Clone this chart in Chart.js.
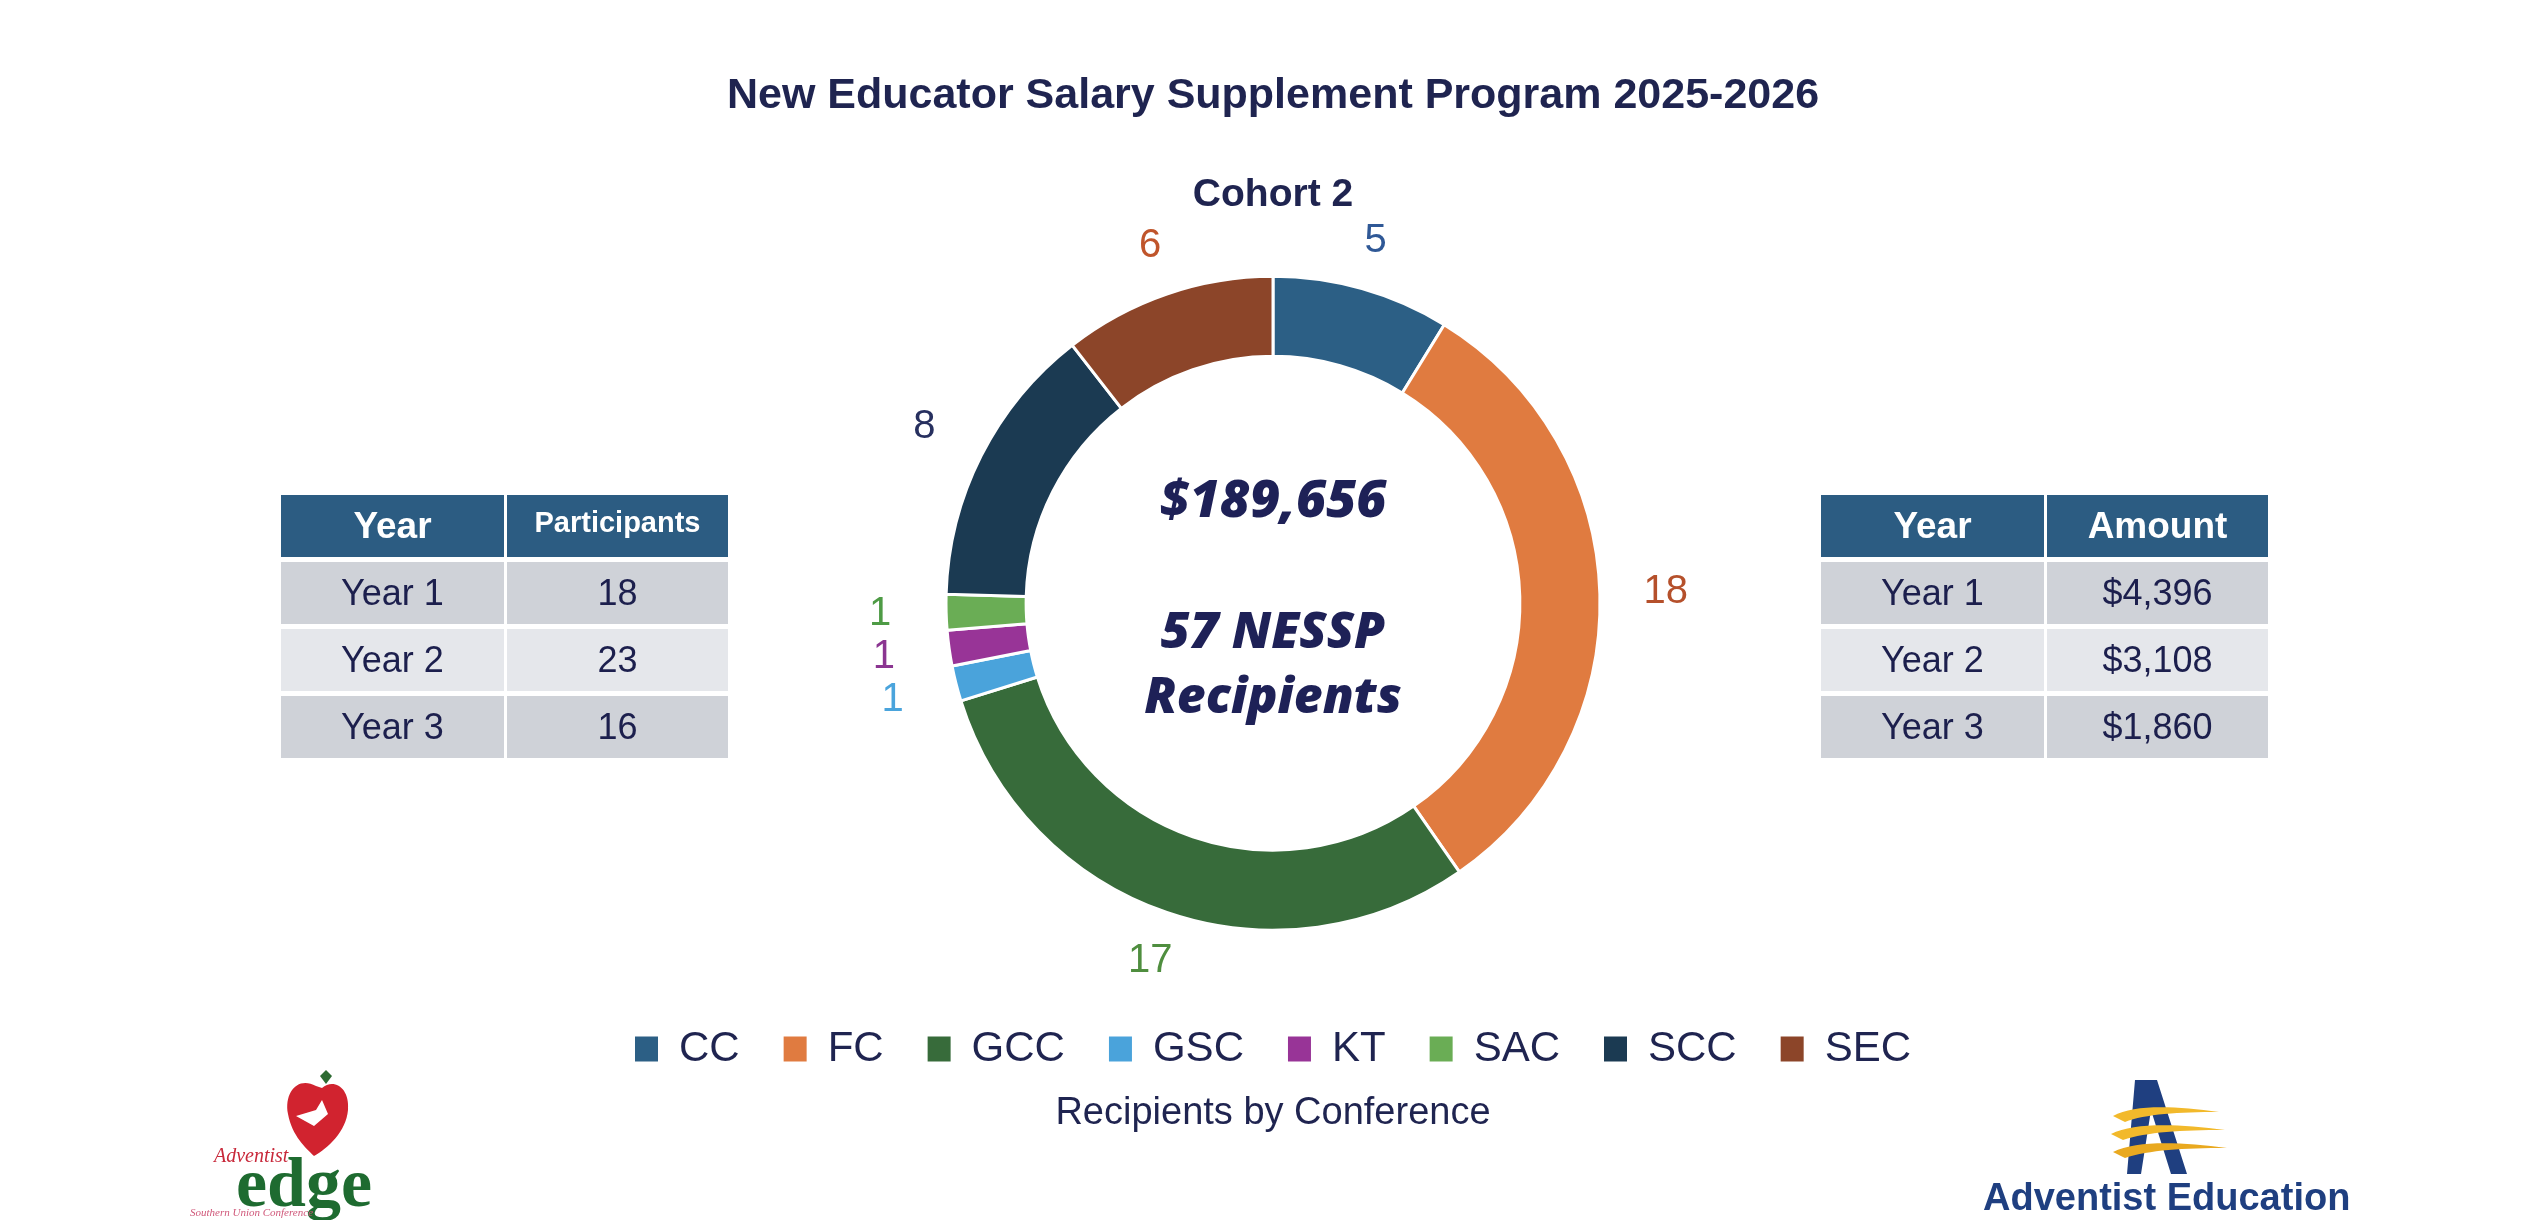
<!DOCTYPE html>
<html>
<head>
<meta charset="utf-8">
<script src="https://cdn.jsdelivr.net/npm/chart.js@4.4.1/dist/chart.umd.min.js"></script>
<style>
  html, body { margin: 0; padding: 0; background: #fff; }
  body { width: 2546px; height: 1228px; position: relative; overflow: hidden; font-family: "Liberation Sans", Arial, sans-serif; }
  #wrap { position: absolute; left: 0; top: 0; width: 2546px; height: 1228px; }
  .table { position: absolute; top: 495px; width: 447px; display: grid; grid-template-columns: 223px 221px; column-gap: 3px; row-gap: 5px; }
  .table div { height: 62px; display: flex; align-items: center; justify-content: center; color: #1c1f4d; font-size: 36px; }
  .table .head { background: #2c5c82; color: #fff; font-weight: bold; font-size: 37px; }
  .table .head.small { font-size: 29px; padding-bottom: 8px; box-sizing: border-box; }
  .table .dark { background: #cfd2d8; }
  .table .light { background: #e5e7eb; }
  .caption { position: absolute; left: 0; width: 2546px; top: 1090px; text-align: center; font-size: 38px; color: #1f2450; }
  .logo { position: absolute; }
</style>
</head>
<body>
<div id="wrap"><canvas id="js-chart"></canvas></div>
<div class="table js-left" style="left:281px"></div>
<div class="table js-right" style="left:1821px"></div>
<div class="caption">Recipients by Conference</div>

<svg class="logo" style="left:180px; top:1070px" width="220" height="150" viewBox="0 0 220 150">
  <path d="M140 6 l6 -6 l6 6 l-6 8 z" fill="#2d6b32"/>
  <path d="M136 16 C118 6 104 22 108 44 C112 66 126 78 134 86 C148 78 166 62 168 40 C170 18 154 8 142 18 Z" fill="#d1232f"/>
  <path d="M116 46 L136 40 L142 30 L148 44 L134 56 Z" fill="#fff"/>
  <text x="34" y="92" font-family="Liberation Serif" font-style="italic" font-size="20" fill="#c8283a">Adventist</text>
  <text x="56" y="136" font-family="Liberation Serif" font-weight="bold" font-size="70" fill="#1e6b30">edge</text>
  <text x="10" y="146" font-family="Liberation Serif" font-style="italic" font-size="11" fill="#d0587a">Southern Union Conference</text>
</svg>

<svg class="logo" style="left:1975px; top:1070px" width="400" height="150" viewBox="0 0 400 150">
  <path d="M160 10 L182 10 L212 104 L196 104 L176 40 L166 104 L152 104 Z" fill="#1f3f80"/>
  <path d="M138 46 C160 34 200 36 244 42 C204 42 170 44 150 52 Z" fill="#f2b92b"/>
  <path d="M136 64 C160 52 204 54 250 60 C206 60 172 62 148 70 Z" fill="#f2b92b"/>
  <path d="M138 82 C162 70 206 72 252 78 C208 78 174 80 150 88 Z" fill="#e9a920"/>
  <text x="8" y="140" font-family="Liberation Sans" font-weight="bold" font-size="38" fill="#1f3f80">Adventist Education</text>
</svg>

<script>
const conferences = ["CC", "FC", "GCC", "GSC", "KT", "SAC", "SCC", "SEC"];
const recipients = [5, 18, 17, 1, 1, 1, 8, 6];
const sliceColors = ["#2c5f85", "#e07b40", "#376b3a", "#4aa3db", "#983497", "#6aad55", "#1b3a52", "#8c4529"];
const labelColors = ["#2f5896", "#b5502b", "#4f8e3f", "#4aa4dc", "#8b3591", "#4e9b45", "#27305f", "#c0552b"];

const years = ["Year 1", "Year 2", "Year 3"];
const participants = [18, 23, 16];
const amounts = ["$4,396", "$3,108", "$1,860"];
const totalAmount = "$189,656";

const navy = "#1f2450";

// tables left and right of the donut
const fillTable = (selector, heads, values, smallHead) => {
  const table = document.querySelector(selector);
  const shades = ["dark", "light", "dark"];
  table.innerHTML = `
    <div class="head">${heads[0]}</div><div class="head ${smallHead ? "small" : ""}">${heads[1]}</div>
    ${ years.map((year, i) => `<div class="${shades[i]}">${year}</div><div class="${shades[i]}">${values[i]}</div>`).join("\n") }
  `;
};
fillTable(".js-left", ["Year", "Participants"], participants, true);
fillTable(".js-right", ["Year", "Amount"], amounts, false);

// value labels outside every slice
const sliceLabels = {
  id: "sliceLabels",
  afterDatasetsDraw(chart) {
    const { ctx } = chart;
    const meta = chart.getDatasetMeta(0);
    ctx.save();
    ctx.font = "40px 'Liberation Sans', Arial, sans-serif";
    ctx.textAlign = "center";
    ctx.textBaseline = "middle";
    meta.data.forEach((arc, i) => {
      const { x, y, startAngle, endAngle, outerRadius } = arc.getProps(["x", "y", "startAngle", "endAngle", "outerRadius"], true);
      const mid = (startAngle + endAngle) / 2;
      const offset = 44 + 22 * Math.abs(Math.cos(mid));
      ctx.fillStyle = labelColors[i];
      ctx.fillText(String(recipients[i]), x + Math.cos(mid) * (outerRadius + offset), y + Math.sin(mid) * (outerRadius + offset));
    });
    ctx.restore();
  }
};

// text in the hole
const centerText = {
  id: "centerText",
  afterDraw(chart) {
    const { ctx } = chart;
    const arc = chart.getDatasetMeta(0).data[0];
    if (!arc) return;
    const total = recipients.reduce((a, b) => a + b, 0);
    ctx.save();
    ctx.fillStyle = "#1e2157";
    ctx.textAlign = "center";
    ctx.textBaseline = "middle";
    ctx.font = "italic 800 52px 'Open Sans', sans-serif";
    ctx.fillText(totalAmount, arc.x, arc.y - 101);
    ctx.font = "italic 800 50px 'Open Sans', sans-serif";
    ctx.fillText(`${total} NESSP`, arc.x, arc.y + 30);
    ctx.fillText("Recipients", arc.x, arc.y + 95);
    ctx.restore();
  }
};

const ctx = document.getElementById("js-chart");

new Chart(ctx, {
  type: "doughnut",
  data: {
    labels: conferences,
    datasets: [{
      data: recipients,
      backgroundColor: sliceColors,
      borderColor: "#ffffff",
      borderWidth: 3,
      radius: 327,
      cutout: "75.5%",
    }],
  },
  options: {
    responsive: true,
    maintainAspectRatio: false,
    animation: false,
    layout: { padding: { top: 0, bottom: 148, left: 0, right: 0 } },
    plugins: {
      tooltip: { enabled: false },
      title: {
        display: true,
        text: "New Educator Salary Supplement Program 2025-2026",
        color: navy,
        font: { family: "'Liberation Sans', Arial, sans-serif", size: 43, weight: "bold", lineHeight: 1.2 },
        padding: { top: 70, bottom: 22 },
      },
      subtitle: {
        display: true,
        text: "Cohort 2",
        color: navy,
        font: { family: "'Liberation Sans', Arial, sans-serif", size: 39, weight: "bold", lineHeight: 1.1 },
        padding: { top: 30, bottom: 6 },
      },
      legend: {
        position: "bottom",
        labels: {
          color: navy,
          font: { family: "'Liberation Sans', Arial, sans-serif", size: 42 },
          boxWidth: 23,
          boxHeight: 25,
          padding: 44,
          generateLabels: (chart) =>
            Chart.overrides.doughnut.plugins.legend.labels.generateLabels(chart).map(item => ({ ...item, lineWidth: 0 })),
        },
      },
    },
  },
  plugins: [sliceLabels, centerText],
});
</script>
</body>
</html>
